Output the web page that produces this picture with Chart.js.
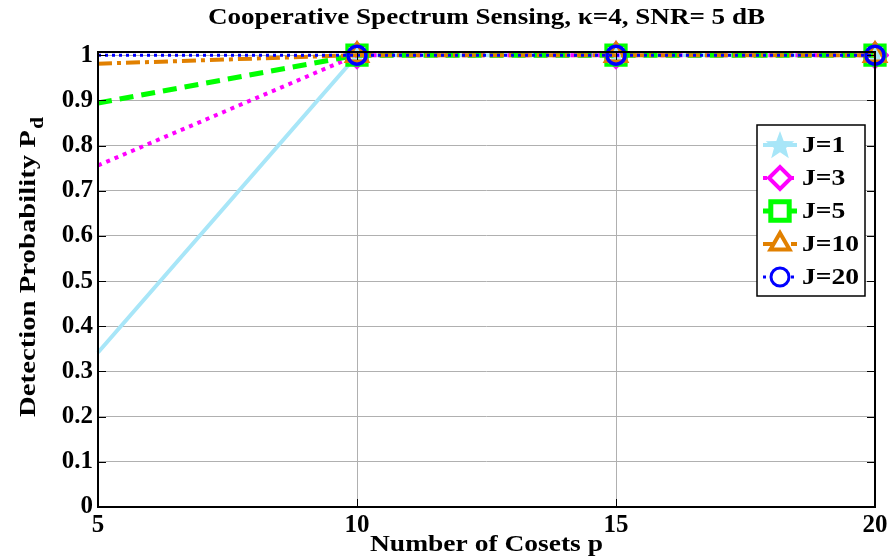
<!DOCTYPE html>
<html>
<head>
<meta charset="utf-8">
<script src="https://cdn.jsdelivr.net/npm/chart.js@4/dist/chart.umd.min.js"></script>
<style>
  body { margin: 0; background: #fff; }
</style>
</head>
<body>
<canvas id="myChart" width="889" height="559"></canvas>
<script>
// ---------------------------------------------------------------------------
const cosets = [5, 10, 15, 20];
const seriesNames = ["J=1", "J=3", "J=5", "J=10", "J=20"];
const pdJ1 = [0.342, 1, 1, 1];
const pdJ3 = [0.756, 1, 1, 1];
const pdJ5 = [0.894, 1, 1, 1];
const pdJ10 = [0.981, 1, 1, 1];
const pdJ20 = [1, 1, 1, 1];
const xTicks = [5, 10, 15, 20];
const yTicks = [0, 0.1, 0.2, 0.3, 0.4, 0.5, 0.6, 0.7, 0.8, 0.9, 1];
const chartTitle = "Cooperative Spectrum Sensing, \u03ba=4, SNR= 5 dB";
// ---------------------------------------------------------------------------
const FONT = "'Liberation Serif', 'Times New Roman', serif";
const ctx = document.getElementById("myChart");

// filled five point star for J=1
function makeStar(size, color) {
  const c = document.createElement("canvas");
  c.width = size;
  c.height = size;
  const g = c.getContext("2d");
  const cx = size / 2, cy = size / 2 + 1;
  const outer = size / 2 - 1, inner = outer * 0.42;
  g.beginPath();
  for (let i = 0; i < 10; i++) {
    const r = i % 2 === 0 ? outer : inner;
    const a = -Math.PI / 2 + (i * Math.PI) / 5;
    g.lineTo(cx + r * Math.cos(a), cy + r * Math.sin(a));
  }
  g.closePath();
  g.fillStyle = color;
  g.fill();
  return c;
}

const starColor = "rgb(168,230,248)";
const starImg = makeStar(26, starColor);
const starLegend = makeStar(32, starColor);

function series(label, data, color, width, dash, style, radius, bw, order) {
  return {
    label: label,
    data: data.map((v, i) => ({ x: cosets[i], y: v })),
    borderColor: color,
    borderWidth: width,
    borderDash: dash,
    pointStyle: style,
    pointRadius: data.map((v, i) => (i === 0 ? 0 : radius)),
    pointBorderColor: color,
    pointBackgroundColor: "rgba(0,0,0,0)",
    pointBorderWidth: bw,
    tension: 0,
    clip: false,
    order: order,
  };
}

// stretched text, the reference font is wider than Liberation Serif
function wideText(c, text, x, y, sx, align) {
  c.save();
  c.translate(x, y);
  c.scale(sx, 1);
  c.textAlign = align;
  c.fillText(text, 0, 0);
  c.restore();
}

// frame, inward ticks, titles and legend
const decor = {
  id: "decor",
  afterDraw(chart) {
    const c = chart.ctx;
    const a = chart.chartArea;
    const xs = chart.scales.x, ys = chart.scales.y;
    c.save();
    // ticks on all four sides
    c.strokeStyle = "#000";
    c.lineWidth = 1;
    yTicks.forEach((v) => {
      const y = Math.round(ys.getPixelForValue(v)) + 0.5;
      c.beginPath();
      c.moveTo(a.left, y); c.lineTo(a.left + 8, y);
      c.moveTo(a.right, y); c.lineTo(a.right - 8, y);
      c.stroke();
    });
    xTicks.forEach((v) => {
      const x = Math.round(xs.getPixelForValue(v)) + 0.5;
      c.beginPath();
      c.moveTo(x, a.bottom); c.lineTo(x, a.bottom - 8);
      c.moveTo(x, a.top); c.lineTo(x, a.top + 8);
      c.stroke();
    });
    // box
    c.lineWidth = 2;
    c.strokeRect(a.left, a.top, a.right - a.left, a.bottom - a.top);

    // title
    c.fillStyle = "#000";
    c.textBaseline = "middle";
    const cx = (a.left + a.right) / 2;
    c.font = "bold 24px " + FONT;
    const tw = c.measureText(chartTitle).width;
    wideText(c, chartTitle, cx, 18, 557 / tw, "center");

    // x title
    c.font = "bold 24px " + FONT;
    const xw = c.measureText("Number of Cosets p").width;
    wideText(c, "Number of Cosets p", cx, 545, 233 / xw, "center");

    // y title with subscript
    c.save();
    c.translate(29, (a.top + a.bottom) / 2 - 12);
    c.rotate(-Math.PI / 2);
    c.font = "bold 24px " + FONT;
    const main = "Detection Probability P";
    const w1 = c.measureText(main).width;
    c.font = "bold 18px " + FONT;
    const w2 = c.measureText("d").width;
    const sy = 300 / (w1 + w2 + 1);
    c.scale(sy, 1);
    c.textAlign = "left";
    c.font = "bold 24px " + FONT;
    c.fillText(main, -(w1 + w2) / 2, 0);
    c.font = "bold 18px " + FONT;
    c.fillText("d", -(w1 + w2) / 2 + w1 + 1, 9);
    c.restore();

    // legend
    const lx = a.right - 118, ly = a.top + 73, lw = 108, lh = 171;
    c.fillStyle = "#fff";
    c.fillRect(lx, ly, lw, lh);
    c.strokeStyle = "#000";
    c.lineWidth = 1.5;
    c.strokeRect(lx, ly, lw, lh);
    chart.data.datasets.forEach((ds, i) => {
      const y = ly + 20 + i * 33;
      c.save();
      c.strokeStyle = ds.borderColor;
      c.lineWidth = ds.borderWidth;
      c.setLineDash(ds.borderDash);
      c.beginPath();
      c.moveTo(lx + 6, y);
      c.lineTo(lx + 40, y);
      c.stroke();
      c.setLineDash([]);
      c.fillStyle = "#fff";
      const style = i === 0 ? starLegend : ds.pointStyle;
      Chart.helpers.drawPoint(c, {
        pointStyle: style,
        radius: i === 4 ? 9 : i === 2 ? 13 : 11,
        rotation: 0,
        borderWidth: ds.pointBorderWidth,
      }, lx + 23, y);
      c.restore();
      c.fillStyle = "#000";
      c.textBaseline = "middle";
      c.font = "bold 23px " + FONT;
      wideText(c, ds.label, lx + 45, y + 1, 1.2, "left");
    });
    c.restore();
  },
};

Chart.defaults.font.family = FONT;

const myChart = new Chart(ctx, {
  type: "line",
  data: {
    datasets: [
      series(seriesNames[0], pdJ1, starColor, 4, [], starImg, 12, 0, 5),
      series(seriesNames[1], pdJ3, "#ff00ff", 4, [4, 5], "rectRot", 12, 3.5, 4),
      series(seriesNames[2], pdJ5, "#00ff00", 5, [14, 8], "rect", 14, 3.5, 3),
      series(seriesNames[3], pdJ10, "rgb(225,128,0)", 4, [14, 5, 4, 5], "triangle", 12, 3.5, 2),
      series(seriesNames[4], pdJ20, "#0000ff", 3, [3, 4], "circle", 9, 3.5, 1),
    ],
  },
  options: {
    responsive: false,
    animation: false,
    layout: { autoPadding: false, padding: { top: 52, right: 14, left: 0, bottom: 0 } },
    plugins: { legend: { display: false }, title: { display: false }, tooltip: { enabled: false } },
    scales: {
      x: {
        type: "linear",
        min: 5,
        max: 20,
        afterBuildTicks: (s) => { s.ticks = xTicks.map((v) => ({ value: v })); },
        afterFit: (s) => { s.height = 52; s.paddingLeft = 0; s.paddingRight = 0; },
        grid: { color: "#b0b0b0", lineWidth: 1, drawTicks: false },
        border: { display: false },
        ticks: { color: "#000", font: { size: 25, weight: "bold" }, padding: 4, maxRotation: 0 },
      },
      y: {
        min: 0,
        max: 1.007,
        afterBuildTicks: (s) => { s.ticks = yTicks.map((v) => ({ value: v })); },
        afterFit: (s) => { s.width = 98; s.paddingTop = 0; s.paddingBottom = 0; },
        grid: { color: "#b0b0b0", lineWidth: 1, drawTicks: false },
        border: { display: false },
        ticks: {
          color: "#000",
          font: { size: 25, weight: "bold" },
          padding: 5,
          callback: (v) => (v === 0 || v === 1 ? String(v) : v.toFixed(1)),
        },
      },
    },
  },
  plugins: [decor],
});
</script>
</body>
</html>
